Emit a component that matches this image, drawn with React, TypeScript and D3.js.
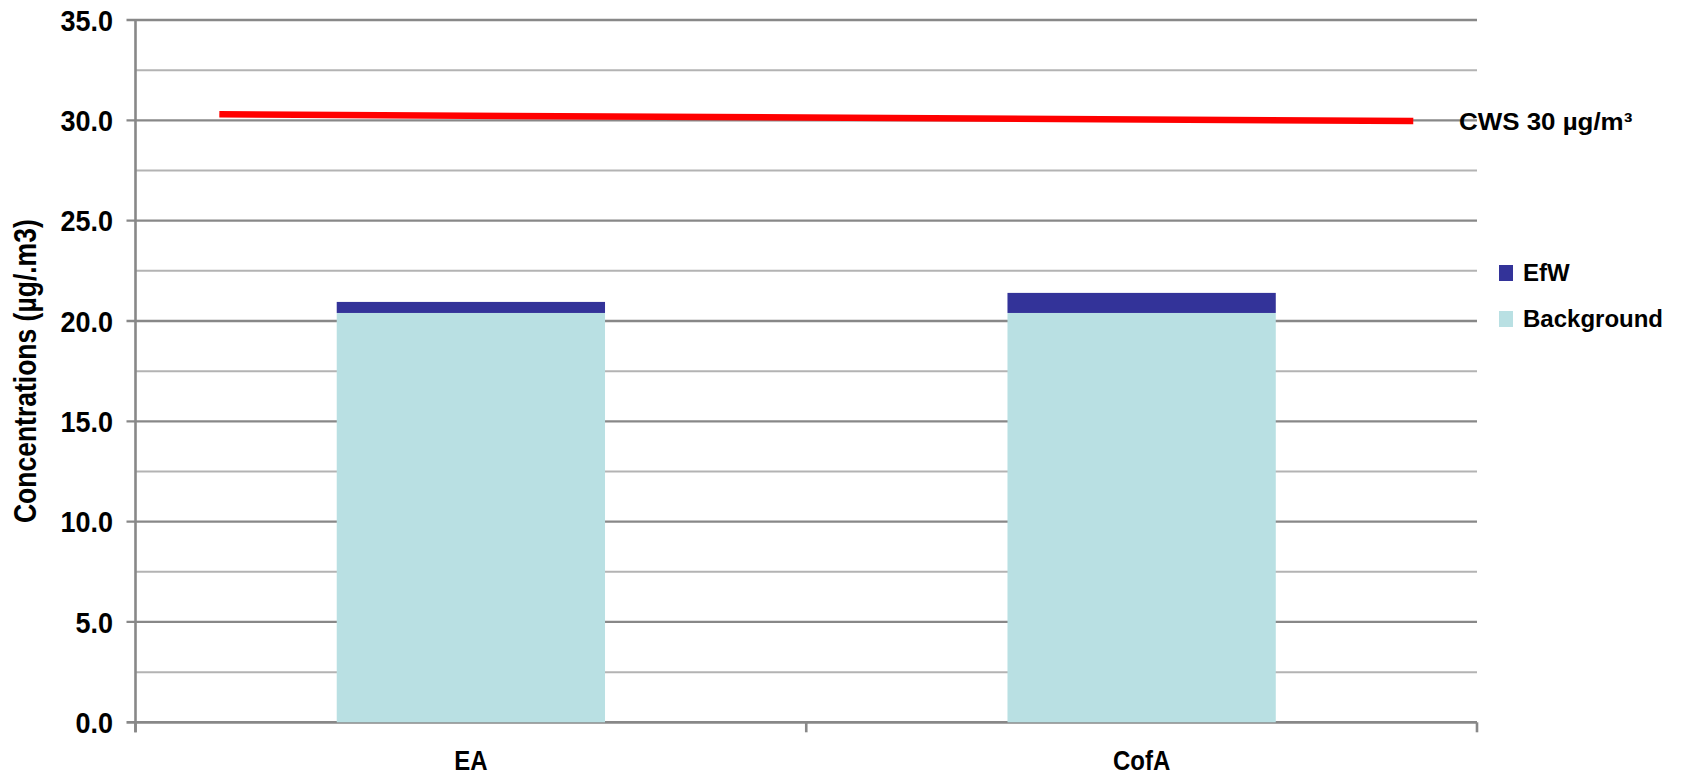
import React from 'react';
import * as d3 from 'd3';

const categories = ['EA', 'CofA'];
const backgroundValues = [20.4, 20.4];
const efwValues = [0.55, 1.0];
const seriesNames = ['Background', 'EfW'];
const legendOrder = ['EfW', 'Background'];
const cwsX = [0.125, 1.905];
const cwsY = [30.3, 29.97];
const cwsLabel = 'CWS 30 µg/m³';
const majorTicks = [0, 5, 10, 15, 20, 25, 30, 35];
const minorTicks = [2.5, 7.5, 12.5, 17.5, 22.5, 27.5, 32.5];

const colors: Record<string, string> = { EfW: '#333399', Background: '#b9e0e3' };
const FONT = '"Liberation Sans", Arial, sans-serif';

const W = 1681;
const H = 777;
const left = 135.5;
const right = 1477;
const top = 20;
const bottom = 722.3;

export default function App() {
  const y = d3.scaleLinear().domain([0, 35]).range([bottom, top]);
  const x = d3.scaleBand<string>().domain(categories).range([left, right]).paddingInner(0.6).paddingOuter(0.3);
  const xLin = d3.scaleLinear().domain([0, 2]).range([left, right]);

  const rows = categories.map((c, i) => ({ cat: c, Background: backgroundValues[i], EfW: efwValues[i] }));
  const stacked = d3.stack<any>().keys(seriesNames)(rows);

  const cwsPoints = cwsX.map((v, i) => [v, cwsY[i]] as [number, number]);
  const line = d3.line<[number, number]>().x(d => xLin(d[0])).y(d => y(d[1]));

  return (
    <svg width={W} height={H} style={{ position: 'absolute', left: 0, top: 0, background: '#fff' }} fontFamily={FONT} fontWeight="bold">
      {/* gridlines */}
      {minorTicks.map(t => (
        <line key={'m' + t} x1={left} x2={right} y1={y(t)} y2={y(t)} stroke="#b3b3b3" strokeWidth={2} />
      ))}
      {majorTicks.map(t => (
        <line key={'g' + t} x1={left - 9} x2={right} y1={y(t)} y2={y(t)} stroke="#888" strokeWidth={t === 0 ? 2.7 : 2.3} />
      ))}

      {/* bars */}
      {stacked.map(s => (
        <g key={s.key} fill={colors[s.key]}>
          {s.map(d => (
            <rect key={d.data.cat} x={x(d.data.cat)} width={x.bandwidth()} y={y(d[1])} height={y(d[0]) - y(d[1])} />
          ))}
        </g>
      ))}

      {/* axes */}
      <line x1={left} x2={left} y1={y(35)} y2={bottom + 10} stroke="#888" strokeWidth={2.6} />
      {[0, 1, 2].map(v => (
        <line key={'xt' + v} x1={xLin(v)} x2={xLin(v)} y1={bottom} y2={bottom + 10} stroke="#888" strokeWidth={2.6} />
      ))}

      {majorTicks.map(t => (
        <text key={'l' + t} transform={`translate(113,${y(t)}) scale(1,1.1)`} textAnchor="end" dy="0.36em" fontSize={27} fill="#000">
          {t.toFixed(1)}
        </text>
      ))}

      {categories.map(c => (
        <text key={c} transform={`translate(${x(c)! + x.bandwidth() / 2},770) scale(1,1.15)`} textAnchor="middle" fontSize={24} fill="#000">
          {c}
        </text>
      ))}

      <text transform={`translate(36,${(top + bottom) / 2}) rotate(-90) scale(1,1.15)`} textAnchor="middle" fontSize={26.5} fill="#000">
        Concentrations (µg/.m3)
      </text>

      {/* CWS limit line */}
      <path d={line(cwsPoints) || ''} stroke="#ff0000" strokeWidth={6.5} fill="none" />
      <text fontSize={24} fill="#000" transform="translate(1459,130) scale(1.08,1)">
        {cwsLabel}
      </text>

      {/* legend */}
      {legendOrder.map((name, i) => (
        <g key={name} transform={`translate(1499,${265 + i * 46})`}>
          <rect width={14} height={16} fill={colors[name]} />
          <text x={24} y={16} fontSize={24} fill="#000">{name}</text>
        </g>
      ))}
    </svg>
  );
}
